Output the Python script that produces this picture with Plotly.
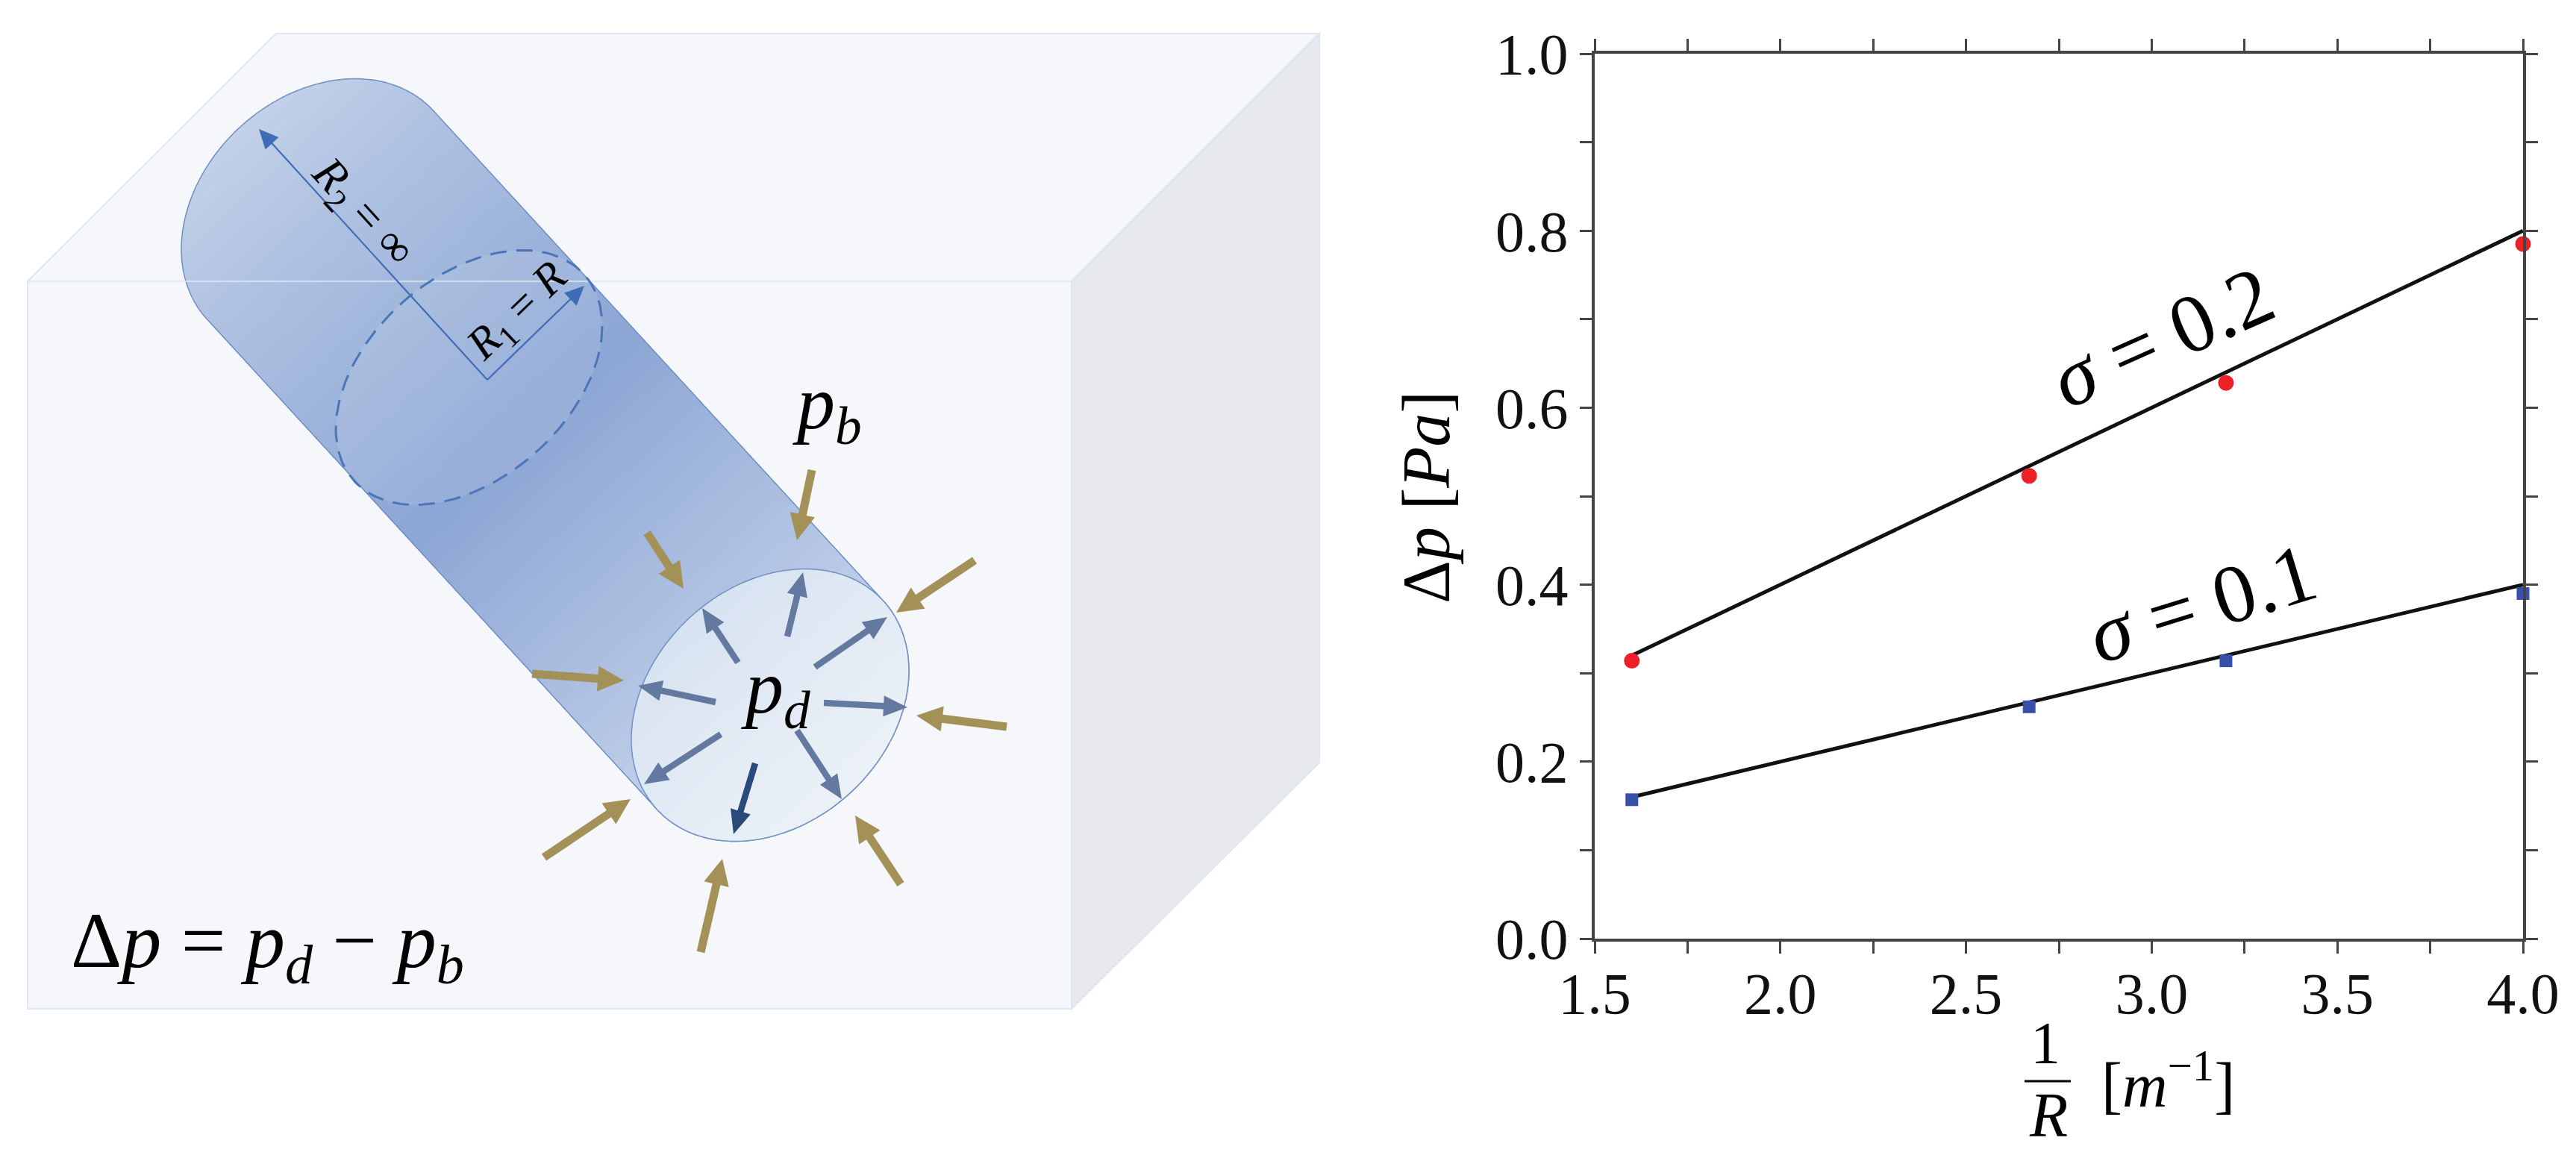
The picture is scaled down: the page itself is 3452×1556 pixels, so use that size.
import numpy as np
import plotly.graph_objects as go

# chart values
inv_radius = [1.6, 2.67, 3.2, 4.0]
dp_sigma_02 = [0.314, 0.523, 0.628, 0.785]
dp_sigma_01 = [0.157, 0.262, 0.314, 0.39]
fit_x = [1.6, 4.0]
fit_sigma_02 = [0.32, 0.8]
fit_sigma_01 = [0.16, 0.4]

x_ticks = [1.5, 2.0, 2.5, 3.0, 3.5, 4.0]
x_labels = ['1.5', '2.0', '2.5', '3.0', '3.5', '4.0']
x_minor_ticks = [1.75, 2.25, 2.75, 3.25, 3.75]
y_ticks = [0.0, 0.2, 0.4, 0.6, 0.8, 1.0]
y_labels = ['0.0', '0.2', '0.4', '0.6', '0.8', '1.0']
y_minor_ticks = [0.1, 0.3, 0.5, 0.7, 0.9]

# sketch on the left, in picture pixels
W, H = 3452, 1556
SERIF = 'Liberation Serif'
brown_arrows = [((1088, 630), (1068, 724)), ((867, 714), (916, 789)), ((1306, 751), (1201, 821)),
                ((713, 903), (836, 912)), ((1349, 974), (1228, 959)), ((729, 1149), (845, 1071)),
                ((939, 1276), (968, 1151)), ((1207, 1185), (1146, 1093))]
blue_arrows = [((1055, 853), (1076, 767)), ((989, 888), (941, 815)), ((1092, 894), (1189, 827)),
               ((959, 941), (855, 919)), ((1104, 942), (1216, 948)), ((966, 984), (863, 1051)),
               ((1068, 979), (1128, 1071))]
dark_arrow = ((1012, 1023), (983, 1118))

U = np.array([186.0, -46.0])
V = np.array([0.0, 176.6])
far_end = np.array([429.0, 288.0])
near_end = np.array([1032.0, 945.0])
axis_dir = (near_end - far_end) / np.linalg.norm(near_end - far_end)


def hex_rgb(c):
    return np.array([int(c[i:i + 2], 16) for i in (1, 3, 5)], dtype=float)


def mix(stops, s):
    pos = [p for p, _ in stops]
    rgb = [np.interp(s, pos, [hex_rgb(c)[i] for _, c in stops]) for i in range(3)]
    return 'rgb(%d,%d,%d)' % tuple(rgb)


def path(pts):
    return 'M ' + ' L '.join('%.1f,%.1f' % (p[0], p[1]) for p in pts) + ' Z'


def shape(pts, fill, line=None, lw=0):
    return dict(type='path', path=path(pts), xref='x2', yref='y2', fillcolor=fill, layer='below',
                line=dict(color=line or 'rgba(0,0,0,0)', width=lw))


def ellipse(center, t):
    return np.outer(np.cos(t), U) + np.outer(np.sin(t), V) + center


def clip_from(pts, s0):
    # keep the part of the outline past s0 along the cylinder axis
    out = []
    s = (pts - far_end) @ axis_dir
    for i in range(len(pts)):
        j = (i + 1) % len(pts)
        if s[i] >= s0:
            out.append(pts[i])
        if (s[i] >= s0) != (s[j] >= s0):
            out.append(pts[i] + (pts[j] - pts[i]) * (s0 - s[i]) / (s[j] - s[i]))
    return np.array(out)


def arrow(tail, tip, w, head_w, head_l):
    tail, tip = np.array(tail, float), np.array(tip, float)
    d = (tip - tail) / np.linalg.norm(tip - tail)
    n = np.array([-d[1], d[0]])
    neck = tip - d * head_l
    return [tail + n * w / 2, neck + n * w / 2, neck + n * head_w / 2, tip,
            neck - n * head_w / 2, neck - n * w / 2, tail - n * w / 2]


shapes = []
EDGE = '#dfe5f1'
shapes.append(shape([(370, 45), (1768, 45), (1436, 377), (37, 377)], '#f5f7fa', EDGE, 2))
shapes.append(shape([(1436, 377), (1768, 45), (1768, 1022), (1436, 1352)], '#e7e9ef', EDGE, 2))
shapes.append(shape([(37, 377), (1436, 377), (1436, 1352), (37, 1352)], '#f5f7fa', EDGE, 2))

# cylinder body, painted as overlapping bands to fake the gradient
normal = np.array([axis_dir[1], -axis_dir[0]])
t0 = np.arctan2(V @ normal, U @ normal)
t_far = np.linspace(t0, t0 - np.pi, 90)
t_near = np.linspace(t0 - np.pi, t0 - 2 * np.pi, 90)
body = np.vstack([ellipse(far_end, t_far), ellipse(near_end, t_near)])
body_stops = [(-260, '#cfdbed'), (0, '#b0c3e2'), (400, '#8ca6d5'), (900, '#c3d1e9'), (1200, '#c3d1e9')]
shapes.append(shape(body, '#cfdbed'))
for s0 in np.arange(-250, 1130, 16):
    band = clip_from(body, s0)
    if len(band) > 2:
        shapes.append(shape(band, mix(body_stops, s0 + 8)))
shapes.append(shape(body, 'rgba(0,0,0,0)', '#6f8fc6', 1.5))

# end face
face = ellipse(near_end, np.linspace(0, 2 * np.pi, 180)[:-1])
face_stops = [(690, '#d5e1f1'), (1100, '#f0f4f9')]
shapes.append(shape(face, '#d5e1f1'))
for s0 in np.arange(690, 1100, 12):
    band = clip_from(face, s0)
    if len(band) > 2:
        shapes.append(shape(band, mix(face_stops, s0 + 6)))
shapes.append(shape(face, 'rgba(0,0,0,0)', '#6f8fc6', 1.5))

# hidden circle and radius marks
t_d = np.linspace(0, 2 * np.pi, 180)
dash_x = 628.5 + 178.5 * np.cos(t_d)
dash_y = 506 - 69 * np.cos(t_d) + 156 * np.sin(t_d)
shapes.append(shape(np.column_stack([dash_x, dash_y])[:-1], 'rgba(255,255,255,0.10)'))
shapes.append(shape([(37, 377), (1436, 377)], 'rgba(0,0,0,0)', 'rgba(228,234,246,0.75)', 2))
center_mark = (653, 509)
for tip in [(347, 173), (783, 383)]:
    a = arrow(center_mark, tip, 2.2, 24, 26)
    shapes.append(shape(a, '#3f6db5'))

for tail, tip in brown_arrows:
    shapes.append(shape(arrow(tail, tip, 11, 34, 35), '#a39157'))
for tail, tip in blue_arrows:
    shapes.append(shape(arrow(tail, tip, 8.5, 28, 32), '#64799f'))
shapes.append(shape(arrow(dark_arrow[0], dark_arrow[1], 8.5, 28, 32), '#2b4a7c'))
# fraction bar of the x label
shapes.append(dict(type='line', xref='x2', yref='y2', x0=2713, x1=2775, y0=1449, y1=1449,
                   line=dict(color='black', width=3)))


def note(text, x, y, size, angle=0):
    return dict(text=text, x=x / W, y=1 - y / H, xref='paper', yref='paper', showarrow=False, textangle=angle,
                xanchor='center', yanchor='middle', font=dict(family=SERIF, size=size, color='black'))


notes = [
    note('<i>p</i><sub><i>b</i></sub>', 1108, 547, 102),
    note('<i>p</i><sub><i>d</i></sub>', 1039, 927, 102),
    note('Δ<i>p</i> = <i>p</i><sub><i>d</i></sub> − <i>p</i><sub><i>b</i></sub>', 358, 1268, 106),
    note('<i>R</i><sub>2</sub> = ∞', 485, 285, 62, 47.7),
    note('<i>R</i><sub>1</sub> = <i>R</i>', 694, 419, 60, -44),
    note('<i>σ</i> = 0.2', 2897, 451, 111, -24),
    note('<i>σ</i> = 0.1', 2951, 808, 111, -17),
    note('1', 2741, 1398, 80),
    note('<i>R</i>', 2745, 1494, 84),
    note('[<i>m</i><sup>−1</sup>]', 2905, 1448, 84),
    note('Δ<i>p</i> [<i>Pa</i>]', 1911, 667, 90, -90),
]

fig = go.Figure()
fig.add_trace(go.Scatter(x=dash_x, y=dash_y, xaxis='x2', yaxis='y2', mode='lines', hoverinfo='skip',
                         line=dict(color='#4a76b8', width=3, dash='22px,13px')))
fig.add_trace(go.Scatter(x=fit_x, y=fit_sigma_02, mode='lines', line=dict(color='#111111', width=5)))
fig.add_trace(go.Scatter(x=fit_x, y=fit_sigma_01, mode='lines', line=dict(color='#111111', width=5)))
fig.add_trace(go.Scatter(x=inv_radius, y=dp_sigma_02, mode='markers', cliponaxis=False,
                         marker=dict(symbol='circle', size=21, color='#ee2027')))
fig.add_trace(go.Scatter(x=inv_radius, y=dp_sigma_01, mode='markers', cliponaxis=False,
                         marker=dict(symbol='square', size=17, color='#3850a8')))

AXIS = dict(showline=True, linecolor='#444444', linewidth=4, mirror='ticks', ticks='outside', ticklen=16,
            tickwidth=3, tickcolor='#444444', showgrid=False, zeroline=False, automargin=False,
            tickfont=dict(family=SERIF, size=78, color='#111111'))
MINOR = dict(tickmode='array', ticks='outside', ticklen=16, tickwidth=3, tickcolor='#444444', showgrid=False)
HIDDEN = dict(domain=[0, 1], showticklabels=False, ticks='', showline=False, showgrid=False, zeroline=False)

fig.update_layout(
    width=W, height=H,
    margin=dict(l=0, r=0, t=0, b=0),
    paper_bgcolor='white', plot_bgcolor='rgba(0,0,0,0)',
    showlegend=False,
    shapes=shapes,
    annotations=notes,
    xaxis=dict(AXIS, domain=[2137 / W, 3381 / W], range=[1.5, 4.0], tickmode='array', tickvals=x_ticks,
               ticktext=x_labels, anchor='y', ticklabelstandoff=-14, minor=dict(MINOR, tickvals=x_minor_ticks)),
    yaxis=dict(AXIS, domain=[1 - 1258 / H, 1 - 72 / H], range=[0, 1.0], tickmode='array', tickvals=y_ticks,
               ticktext=y_labels, anchor='x', minor=dict(MINOR, tickvals=y_minor_ticks)),
    xaxis2=dict(HIDDEN, range=[0, W], anchor='y2'),
    yaxis2=dict(HIDDEN, range=[H, 0], anchor='x2'),
)

fig.write_html("out.html", config=dict(displayModeBar=False), post_script="document.body.style.margin='0';")
